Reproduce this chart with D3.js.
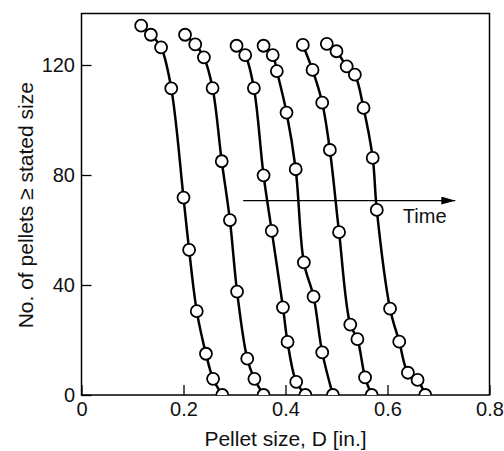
<!DOCTYPE html>
<html>
<head>
<meta charset="utf-8">
<script src="https://cdn.jsdelivr.net/npm/d3@7"></script>
<style>
  html, body { margin: 0; padding: 0; background: #fff; }
  text { font-family: "Liberation Sans", Arial, Helvetica, sans-serif; fill: #111; }
</style>
</head>
<body>
<svg id="chart" width="504" height="451"></svg>
<script>
// ---- data ----
const curve1X = [0.117, 0.136, 0.156, 0.176, 0.200, 0.211, 0.226, 0.244, 0.258, 0.276];
const curve1Y = [134.3, 131.0, 126.4, 111.5, 71.8, 52.8, 30.5, 15.0, 5.9, 0];
const curve2X = [0.203, 0.223, 0.240, 0.257, 0.275, 0.291, 0.305, 0.325, 0.339, 0.357];
const curve2Y = [131.0, 127.5, 122.8, 111.6, 85.0, 63.6, 37.6, 13.2, 5.9, 0];
const curve3X = [0.304, 0.321, 0.338, 0.357, 0.373, 0.395, 0.404, 0.421, 0.439];
const curve3Y = [127.0, 123.6, 111.6, 79.9, 59.7, 31.9, 19.3, 4.8, 0];
const curve4X = [0.357, 0.375, 0.383, 0.402, 0.420, 0.436, 0.455, 0.472, 0.493];
const curve4Y = [127.0, 123.6, 117.8, 102.7, 82.1, 48.2, 35.8, 15.5, 0];
const curve5X = [0.434, 0.453, 0.472, 0.487, 0.505, 0.527, 0.541, 0.556, 0.569];
const curve5Y = [127.3, 118.2, 106.3, 89.1, 59.2, 25.6, 20.3, 6.4, 0];
const curve6X = [0.481, 0.500, 0.520, 0.536, 0.553, 0.571, 0.579, 0.605, 0.623, 0.640, 0.659, 0.674];
const curve6Y = [127.7, 125.0, 119.5, 116.5, 104.4, 86.2, 67.3, 31.4, 19.4, 8.1, 5.5, 0];

const xTicks = [0, 0.2, 0.4, 0.6, 0.8];
const xTickLabels = ["0", "0.2", "0.4", "0.6", "0.8"];
const yTicks = [0, 40, 80, 120];
const yTickLabels = ["0", "40", "80", "120"];

const arrowX = [0.317, 0.733];
const arrowY = [70.7, 70.7];
const arrowLabel = "Time";
const arrowLabelPos = [0.630, 62.5];

const xTitle = "Pellet size, D [in.]";
const yTitle = "No. of pellets \u2265 stated size";

// ---- layout ----
const svg = d3.select("#chart");
const L = 81.5, R = 489.5, T = 13.5, B = 395;
const x = d3.scaleLinear().domain([0, 0.8]).range([L, R]);
const y = d3.scaleLinear().domain([0, (B - T) / 2.75]).range([B, T]);

svg.append("defs").append("clipPath").attr("id", "plotclip")
  .append("rect").attr("x", L).attr("y", T).attr("width", R - L).attr("height", B - T);

svg.append("defs").append("marker")
  .attr("id", "arrowhead").attr("viewBox", "0 0 14 8")
  .attr("refX", 14).attr("refY", 4)
  .attr("markerWidth", 14).attr("markerHeight", 8)
  .attr("markerUnits", "userSpaceOnUse").attr("orient", "auto")
  .append("path").attr("d", "M0,0 L14,4 L0,8 Z").attr("fill", "#000");

// axes (ticks inward)
const xAxis = d3.axisBottom(x).tickValues(xTicks)
  .tickFormat((d, i) => xTickLabels[i]).tickSize(-10).tickPadding(6.5);
const yAxis = d3.axisLeft(y).tickValues(yTicks)
  .tickFormat((d, i) => yTickLabels[i]).tickSize(-10).tickPadding(6.5);

const gx = svg.append("g").attr("transform", `translate(0,${B})`).call(xAxis);
const gy = svg.append("g").attr("transform", `translate(${L},0)`).call(yAxis);
[gx, gy].forEach(g => {
  g.select(".domain").remove();
  g.selectAll(".tick line").attr("stroke", "#000").attr("stroke-width", 1.3);
  g.selectAll(".tick text").attr("font-size", 20)
    .attr("font-family", "'Liberation Sans', Arial, sans-serif").attr("fill", "#111");
});

// frame
svg.append("rect").attr("x", L).attr("y", T).attr("width", R - L).attr("height", B - T)
  .attr("fill", "none").attr("stroke", "#000").attr("stroke-width", 1.5);

// curves
const series = [
  [curve1X, curve1Y], [curve2X, curve2Y], [curve3X, curve3Y],
  [curve4X, curve4Y], [curve5X, curve5Y], [curve6X, curve6Y]
].map(([xs, ys]) => xs.map((v, i) => ({ x: v, y: ys[i] })));

const plot = svg.append("g").attr("clip-path", "url(#plotclip)");
const line = d3.line().x(d => x(d.x)).y(d => y(d.y)).curve(d3.curveCatmullRom.alpha(0.5));

plot.selectAll("path.curve").data(series).join("path")
  .attr("class", "curve")
  .attr("d", line)
  .attr("fill", "none").attr("stroke", "#000").attr("stroke-width", 2.5);

series.forEach(s => {
  plot.append("g").selectAll("circle").data(s).join("circle")
    .attr("cx", d => x(d.x)).attr("cy", d => y(d.y)).attr("r", 6)
    .attr("fill", "#fff").attr("stroke", "#000").attr("stroke-width", 1.8);
});

// arrow and label
svg.append("line")
  .attr("x1", x(arrowX[0])).attr("y1", y(arrowY[0]))
  .attr("x2", x(arrowX[1])).attr("y2", y(arrowY[1]))
  .attr("stroke", "#000").attr("stroke-width", 1.4)
  .attr("marker-end", "url(#arrowhead)");
svg.append("text")
  .attr("x", x(arrowLabelPos[0])).attr("y", y(arrowLabelPos[1]))
  .attr("font-size", 20).text(arrowLabel);

// axis titles
svg.append("text")
  .attr("x", (L + R) / 2).attr("y", 446)
  .attr("text-anchor", "middle").attr("font-size", 21).text(xTitle);
svg.append("text")
  .attr("transform", `translate(33,${(T + B) / 2 + 1}) rotate(-90)`)
  .attr("text-anchor", "middle").attr("font-size", 21).text(yTitle);
</script>
</body>
</html>
